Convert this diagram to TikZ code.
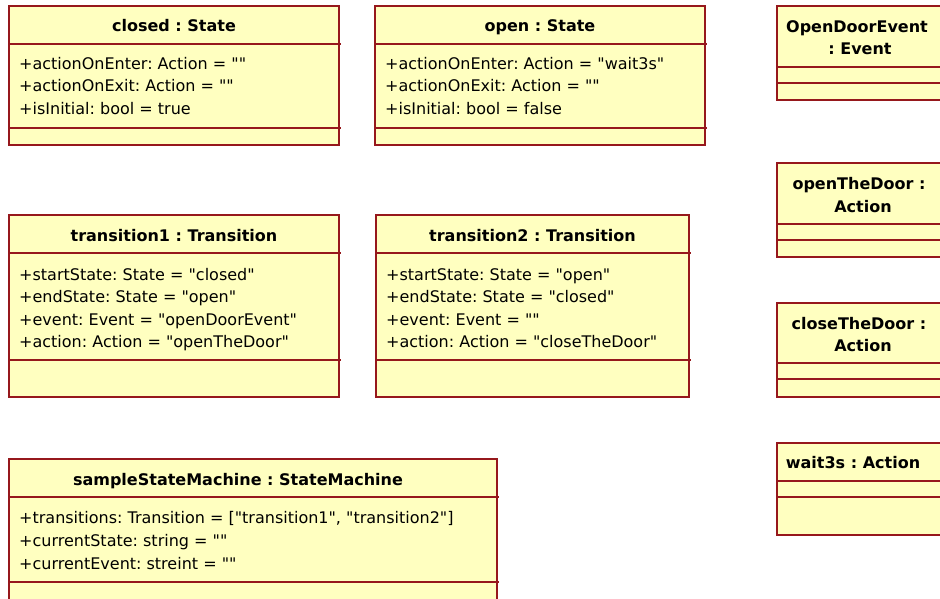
\documentclass[tikz,border=0pt]{standalone}
\usepackage{fontspec}
\setmainfont{DejaVu Sans}[Ligatures=TeXOff]
\frenchspacing
\definecolor{umlline}{RGB}{150,24,28}
\definecolor{umlfill}{RGB}{255,255,192}
\begin{document}
\begin{tikzpicture}[x=1pt,y=-1pt,
  umlbox/.style={draw=umlline, fill=umlfill, line width=1.3pt},
  sep/.style={draw=umlline, line width=1.3pt},
  ttl/.style={anchor=base, inner sep=0pt, font=\fontsize{16}{19}\selectfont\bfseries},
  attr/.style={anchor=base west, inner sep=0pt, font=\fontsize{16}{19}\selectfont}]
\useasboundingbox (0,0) rectangle (940,598);
\clip (0,0) rectangle (940,598);

% closed : State
\path[umlbox] (9,6) rectangle (339,145);
\draw[sep] (9,44) -- (341,44);
\draw[sep] (9,128) -- (341,128);
\node[ttl] (closedT) at (174,31) {closed : State};
\node[attr] (closedA1) at (19,69) {+actionOnEnter: Action = ""};
\node[attr] (closedA2) at (19,91.5) {+actionOnExit: Action = ""};
\node[attr] (closedA3) at (19,114) {+isInitial: bool = true};

% open : State
\path[umlbox] (375,6) rectangle (705,145);
\draw[sep] (375,44) -- (707,44);
\draw[sep] (375,128) -- (707,128);
\node[ttl] (openT) at (540,31) {open : State};
\node[attr] (openA1) at (385,69) {+actionOnEnter: Action = "wait3s"};
\node[attr] (openA2) at (385,91.5) {+actionOnExit: Action = ""};
\node[attr] (openA3) at (385,114) {+isInitial: bool = false};

% transition1 : Transition
\path[umlbox] (9,215) rectangle (339,397);
\draw[sep] (9,253) -- (341,253);
\draw[sep] (9,360) -- (341,360);
\node[ttl] (tr1T) at (174,241) {transition1 : Transition};
\node[attr] (tr1A1) at (19,280) {+startState: State = "closed"};
\node[attr] (tr1A2) at (19,302.5) {+endState: State = "open"};
\node[attr] (tr1A3) at (19,325) {+event: Event = "openDoorEvent"};
\node[attr] (tr1A4) at (19,347.5) {+action: Action = "openTheDoor"};

% transition2 : Transition
\path[umlbox] (376,215) rectangle (689,397);
\draw[sep] (376,253) -- (691,253);
\draw[sep] (376,360) -- (691,360);
\node[ttl] (tr2T) at (532.5,241) {transition2 : Transition};
\node[attr] (tr2A1) at (386,280) {+startState: State = "open"};
\node[attr] (tr2A2) at (386,302.5) {+endState: State = "closed"};
\node[attr] (tr2A3) at (386,325) {+event: Event = ""};
\node[attr] (tr2A4) at (386,347.5) {+action: Action = "closeTheDoor"};

% sampleStateMachine : StateMachine
\path[umlbox] (9,459) rectangle (497,610);
\draw[sep] (9,497) -- (499,497);
\draw[sep] (9,582) -- (499,582);
\node[ttl] (smT) at (238,485) {sampleStateMachine : StateMachine};
\node[attr] (smA1) at (19,523) {+transitions: Transition = ["transition1", "transition2"]};
\node[attr] (smA2) at (19,546) {+currentState: string = ""};
\node[attr] (smA3) at (19,569) {+currentEvent: streint = ""};

% right column of objects
\path[umlbox] (777,6) rectangle (950,100);
\draw[sep] (777,67) -- (950,67);
\draw[sep] (777,83) -- (950,83);
\node[ttl] (evT1) at (857,32) {OpenDoorEvent};
\node[ttl] (evT2) at (860,54) {: Event};

\path[umlbox] (777,163) rectangle (950,257);
\draw[sep] (777,224) -- (950,224);
\draw[sep] (777,240) -- (950,240);
\node[ttl] (odT1) at (859,189) {openTheDoor :};
\node[ttl] (odT2) at (863,212) {Action};

\path[umlbox] (777,303) rectangle (950,397);
\draw[sep] (777,363) -- (950,363);
\draw[sep] (777,379) -- (950,379);
\node[ttl] (cdT1) at (859,329) {closeTheDoor :};
\node[ttl] (cdT2) at (863,351) {Action};

\path[umlbox] (777,443) rectangle (950,535);
\draw[sep] (777,481) -- (950,481);
\draw[sep] (777,497) -- (950,497);
\node[ttl] (wT) at (853,468) {wait3s : Action};
\end{tikzpicture}
\end{document}
